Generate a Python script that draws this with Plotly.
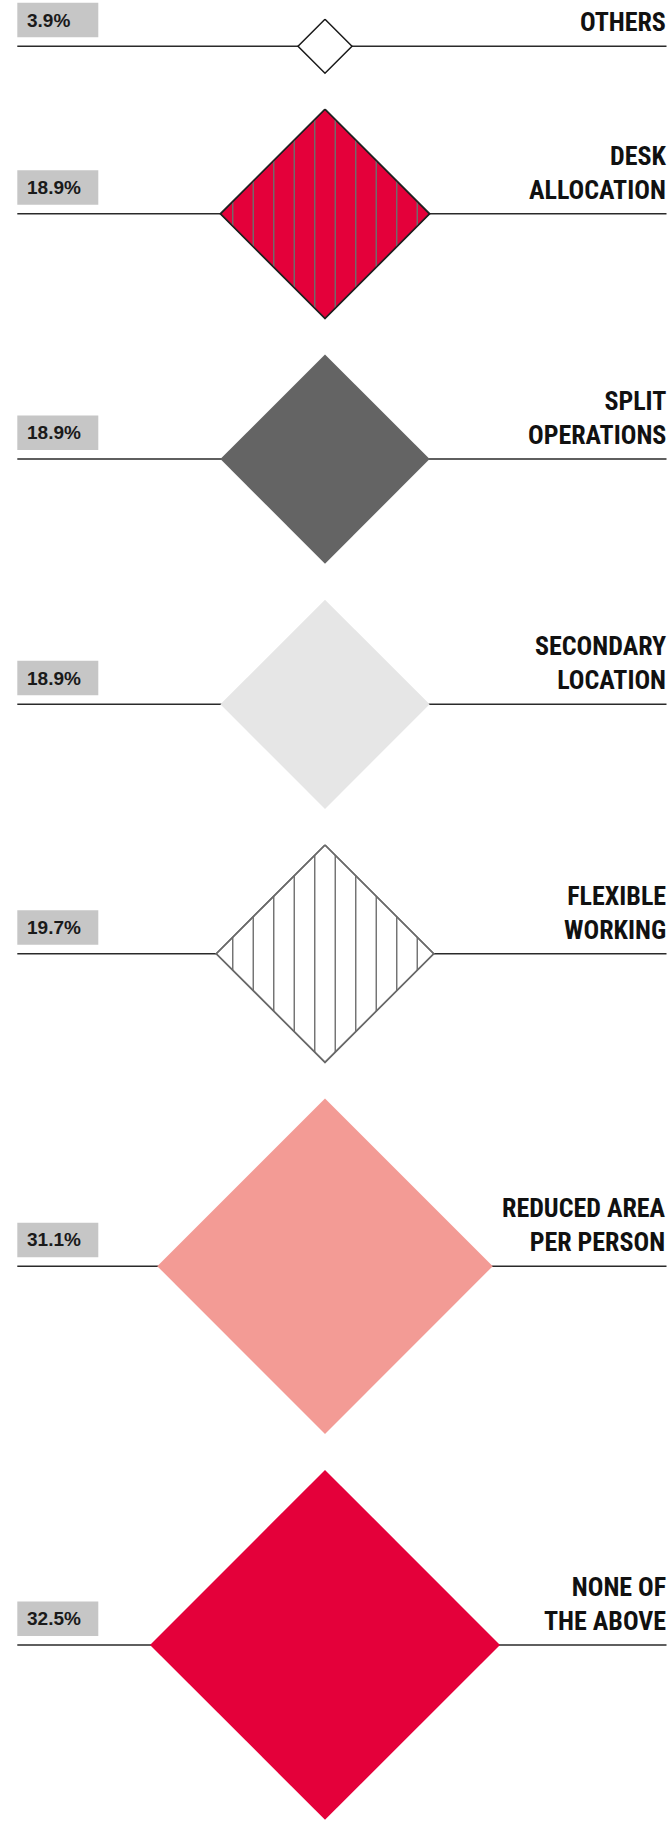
import plotly.graph_objects as go

# ---- data -------------------------------------------------------------
categories = [
    "OTHERS",
    "DESK<br>ALLOCATION",
    "SPLIT<br>OPERATIONS",
    "SECONDARY<br>LOCATION",
    "FLEXIBLE<br>WORKING",
    "REDUCED AREA<br>PER PERSON",
    "NONE OF<br>THE ABOVE",
]
values = [3.9, 18.9, 18.9, 18.9, 19.7, 31.1, 32.5]

# ---- styling ----------------------------------------------------------
fills = ["#ffffff", "#e4003a", "#646464", "#e6e6e6", "#ffffff", "#f39b95", "#e4003a"]
outlines = ["#1a1a1a", "#222222", None, None, "#6a6a6a", None, None]
hatched = [False, True, False, False, True, False, False]
HATCH_COLOR = "#6e6e6e"
HATCH_STEP = 20.5

W, H = 670, 1826
CX = 325                 # horizontal centre of the diamonds
LINE_X0, LINE_X1 = 17.3, 666.5
TOP = 19.3               # space above the first diamond
GAP = 36                 # vertical gap between neighbouring diamonds
SIZE_OFFSET, SIZE_PER_POINT = 6.8, 5.175   # half-diagonal = offset + k * value

BOX_X0, BOX_X1 = 17.3, 98.3
BOX_H, BOX_LIFT = 34.5, 9
BOX_COLOR = "#c6c6c6"

TEXT_FONT = "Roboto Condensed, Roboto, sans-serif"
VALUE_FONT = "Liberation Sans, Arial, sans-serif"


def half_size(v):
    return SIZE_OFFSET + SIZE_PER_POINT * v


# stack rows: each diamond centred on its own baseline
halves = [half_size(v) for v in values]
centres = []
y = TOP
for i, h in enumerate(halves):
    if i > 0:
        y += GAP
    y += h
    centres.append(y)
    y += h

fig = go.Figure()

# baselines (behind the diamonds)
for cy in centres:
    fig.add_trace(go.Scatter(
        x=[LINE_X0, LINE_X1], y=[cy, cy], mode="lines",
        line=dict(color="#2a2a2a", width=1.5), hoverinfo="skip", showlegend=False))

# diamonds
for cat, v, cy, h, fc, oc, hat in zip(categories, values, centres, halves, fills, outlines, hatched):
    fig.add_trace(go.Scatter(
        x=[CX, CX + h, CX, CX - h, CX], y=[cy - h, cy, cy + h, cy, cy - h],
        mode="lines", fill="toself", fillcolor=fc,
        line=dict(color=oc if oc else fc, width=1.5 if oc else 0),
        name=cat.replace("<br>", " "), hoverinfo="name", showlegend=False))
    if hat:
        hx, hy = [], []
        k = 0
        offs = []
        while True:
            d = HATCH_STEP / 2 + k * HATCH_STEP
            if d >= h - 3:
                break
            offs += [d, -d]
            k += 1
        for d in sorted(offs):
            x = CX + d
            r = h - abs(d)
            hx += [x, x, None]
            hy += [cy - r, cy + r, None]
        fig.add_trace(go.Scatter(
            x=hx, y=hy, mode="lines", line=dict(color=HATCH_COLOR, width=1.4),
            hoverinfo="skip", showlegend=False))
        # redraw outline over the hatch
        if oc:
            fig.add_trace(go.Scatter(
                x=[CX, CX + h, CX, CX - h, CX], y=[cy - h, cy, cy + h, cy, cy - h],
                mode="lines", line=dict(color=oc, width=1.5),
                hoverinfo="skip", showlegend=False))

# value boxes and category labels
for cat, v, cy in zip(categories, values, centres):
    y1 = cy - BOX_LIFT
    y0 = y1 - BOX_H
    fig.add_shape(type="rect", x0=BOX_X0, x1=BOX_X1, y0=y0, y1=y1,
                  fillcolor=BOX_COLOR, line=dict(width=0), layer="above")
    fig.add_annotation(x=BOX_X0 + 8, y=(y0 + y1) / 2, text=f"<b>{v:.1f}%</b>",
                       xanchor="left", yanchor="middle", showarrow=False,
                       font=dict(family=VALUE_FONT, size=19, color="#1a1a1a"))
    fig.add_annotation(x=LINE_X1, y=cy - 8, text=f"<b>{cat}</b>",
                       xanchor="right", yanchor="bottom", align="right", showarrow=False,
                       borderpad=0,
                       font=dict(family=TEXT_FONT, size=26, color="#111111"))

fig.update_layout(
    width=W, height=H, margin=dict(l=0, r=0, t=0, b=0),
    paper_bgcolor="white", plot_bgcolor="white",
    xaxis=dict(range=[0, W], visible=False, fixedrange=True),
    yaxis=dict(range=[H, 0], visible=False, fixedrange=True),
    showlegend=False,
)

fig.write_html("out.html")
